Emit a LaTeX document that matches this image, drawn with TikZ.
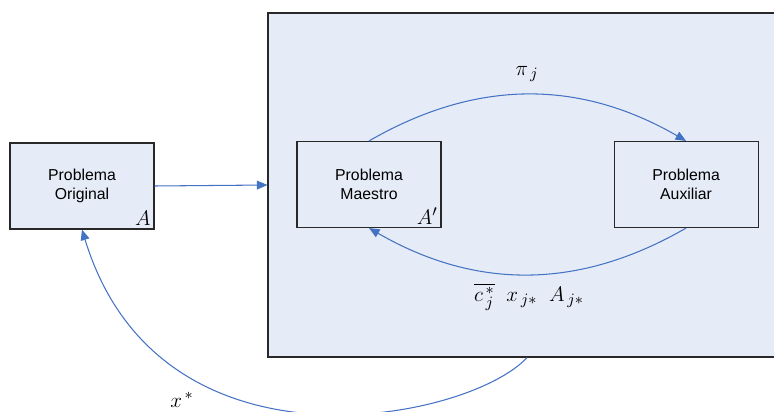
\documentclass[tikz,border=0pt]{standalone}
\definecolor{panelblue}{RGB}{230,236,247}
\definecolor{linkblue}{RGB}{68,114,196}
\definecolor{framegray}{RGB}{40,40,40}
\usepackage{fontspec}
\setsansfont{Liberation Sans}
\usepackage{tikz}
\usetikzlibrary{arrows.meta,positioning}

\begin{document}
\begin{tikzpicture}[x=0.02cm, y=-0.02cm,
    prob/.style={draw=framegray, line width=0.65pt, minimum width=2.88cm,
                 minimum height=1.72cm, align=center,
                 font=\sffamily\fontsize{9}{11}\selectfont},
    panel/.style={draw=framegray, line width=0.65pt, fill=panelblue,
                  minimum width=10.36cm, minimum height=6.88cm},
    arr/.style={-{Triangle[length=6pt,width=5pt]}, linkblue, line width=0.6pt},
    mat/.style={font=\fontsize{13}{15}\selectfont, inner sep=1pt},
    tag/.style={anchor=south east, inner sep=2pt, font=\fontsize{13}{15}\selectfont}
  ]
    \useasboundingbox (0,0) rectangle (774,412);
    \clip (0,0) rectangle (774,412);

    \node[panel] (sub) at (527,185) {};
    \node[prob, fill=panelblue] (ori) at (82,186) {Problema\\Original};
    \node[prob] (mae) at (369,184.5) {Problema\\Maestro};
    \node[prob, right=3.44cm of mae] (aux) {Problema\\Auxiliar};

    \node[tag] at (ori.south east) {$A$};
    \node[tag] at (mae.south east) {$A'$};

    \draw[arr] (ori.east) -- (sub.west);

    % cycle between master and auxiliary problem
    \draw[arr] (mae.north) to[out=30, in=150] (aux.north);
    \draw[arr] (aux.south) to[out=-150, in=-30] (mae.south);
    \node[mat] (dual) at (527,74) {$\pi_{\,j}$};
    \node[mat] (cols) at (529,297)
      {$\overline{c^{\,*}_{\,j}}\;\; x_{\,j*}\;\; A_{\,j*}$};

    % solution back to the original problem
    \draw[arr] (sub.south) .. controls (470,420) and (160,485) .. (ori.south);
    \node[mat] (sol) at (182,400) {$x^{\,*}$};
\end{tikzpicture}
\end{document}
